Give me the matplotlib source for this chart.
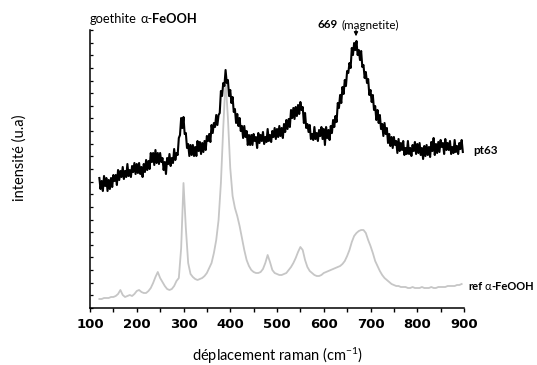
import numpy as np
import matplotlib
matplotlib.use("Agg")
import matplotlib.pyplot as plt
from matplotlib.transforms import IdentityTransform

plt.rcParams['font.family'] = ['Lato', 'DejaVu Sans']
plt.rcParams['mathtext.fontset'] = 'custom'
plt.rcParams['mathtext.rm'] = 'Lato'
plt.rcParams['mathtext.bf'] = 'Lato:bold'
plt.rcParams['mathtext.it'] = 'Lato:italic'

# pt63 spectrum: Raman shift 120 .. 897.5 cm-1, every 2.5 cm-1 (arbitrary units)
shift_pt63 = np.arange(120, 900, 2.5)
pt63 = [130, 119, 127, 117, 132, 122, 130, 117, 128, 119,
        130, 121, 133, 127, 133, 123, 138, 128, 137, 131,
        141, 129, 137, 131, 144, 132, 138, 131, 142, 136,
        145, 134, 144, 135, 145, 134, 141, 131, 144, 136,
        148, 138, 147, 139, 155, 146, 155, 143, 158, 145,
        155, 144, 155, 146, 150, 138, 146, 134, 150, 144,
        154, 142, 150, 145, 159, 148, 155, 153, 170, 173,
        190, 180, 191, 174, 175, 160, 164, 152, 163, 153,
        163, 152, 161, 152, 167, 157, 166, 154, 165, 156,
        167, 158, 172, 167, 174, 166, 183, 175, 185, 181,
        193, 183, 193, 195, 217, 212, 225, 222, 238, 225,
        228, 212, 218, 205, 211, 196, 199, 185, 194, 182,
        190, 177, 182, 170, 182, 171, 177, 163, 173, 163,
        173, 163, 174, 167, 171, 160, 175, 165, 173, 167,
        176, 164, 171, 166, 179, 167, 173, 166, 177, 171,
        180, 169, 179, 171, 182, 172, 180, 170, 184, 176,
        188, 179, 189, 181, 198, 190, 200, 189, 201, 192,
        203, 194, 206, 198, 201, 185, 195, 180, 184, 176,
        183, 169, 174, 168, 181, 169, 175, 167, 178, 172,
        181, 169, 179, 163, 181, 170, 178, 168, 182, 175,
        188, 181, 192, 186, 205, 200, 213, 205, 221, 214,
        228, 222, 237, 235, 245, 240, 260, 253, 265, 258,
        267, 253, 258, 248, 257, 241, 243, 230, 236, 225,
        229, 213, 218, 206, 213, 198, 202, 188, 198, 185,
        193, 179, 184, 172, 185, 174, 180, 165, 174, 162,
        171, 160, 171, 163, 167, 155, 169, 157, 165, 158,
        167, 153, 160, 154, 167, 154, 160, 152, 163, 157,
        166, 154, 164, 155, 165, 153, 160, 149, 162, 152,
        163, 153, 161, 151, 166, 157, 170, 153, 164, 155,
        166, 156, 168, 161, 165, 154, 169, 158, 165, 158,
        167, 154, 161, 155, 168, 156, 162, 154, 165, 159,
        168, 156]

# reference goethite spectrum: Raman shift 120 .. 895 cm-1, every 5 cm-1
shift_ref = np.arange(120, 900, 5)
ref = [9, 9, 10, 10, 10, 11, 11, 12, 14, 18,
       13, 11, 12, 13, 12, 14, 17, 18, 16, 15,
       15, 17, 20, 25, 31, 36, 30, 26, 22, 19,
       18, 19, 22, 27, 30, 60, 125, 80, 45, 34,
       31, 29, 28, 29, 30, 32, 35, 40, 45, 55,
       68, 88, 125, 180, 228, 190, 140, 112, 100, 92,
       82, 70, 58, 48, 42, 38, 36, 35, 35, 36,
       39, 45, 53, 46, 38, 35, 34, 33, 33, 34,
       35, 38, 41, 45, 50, 56, 61, 58, 48, 41,
       37, 35, 33, 32, 32, 33, 35, 36, 37, 38,
       39, 40, 41, 42, 44, 47, 52, 58, 66, 72,
       75, 77, 78, 78, 75, 68, 62, 55, 47, 42,
       37, 33, 30, 28, 26, 24, 23, 22, 22, 21,
       21, 21, 20, 20, 21, 20, 20, 20, 21, 20,
       20, 20, 21, 20, 20, 21, 21, 21, 21, 22,
       22, 22, 22, 23, 23, 24]

xticks = [100, 200, 300, 400, 500, 600, 700, 800, 900]

W, H = 537, 365
fig = plt.figure(figsize=(W / 100, H / 100), dpi=100)
ax = fig.add_axes([90 / W, 1 - 308 / H, (464 - 90) / W, (308 - 30) / H])

ax.plot(shift_ref, ref, color='#c6c6c6', lw=1.3, zorder=2)
ax.plot(shift_pt63, pt63, color='black', lw=1.5, zorder=3)

ax.set_xlim(100, 900)
ax.set_ylim(0, 278)
ax.set_xticks(xticks)
ax.set_xticklabels([str(t) for t in xticks], fontweight='bold', fontsize=9.5,
                   family='DejaVu Sans')
ax.set_xticks(np.arange(150, 900, 100), minor=True)
ax.set_yticks(np.arange(0, 279, 278 / 22))
ax.set_yticklabels([])
ax.tick_params(axis='x', which='major', direction='out', length=3, width=1.0, pad=4)
ax.tick_params(axis='x', which='minor', direction='out', length=3, width=1.0)
ax.tick_params(axis='y', which='major', direction='in', length=2.5, width=0.9)
for s in ['top', 'right']:
    ax.spines[s].set_visible(False)
for s in ['left', 'bottom']:
    ax.spines[s].set_linewidth(1.1)

# annotation arrow at 669 cm-1
ax.annotate('', xy=(669, 269), xytext=(669, 281),
            arrowprops=dict(arrowstyle='-|>', color='black', lw=0.8,
                            mutation_scale=6), annotation_clip=False)

fig.text(277 / W, 1 - 356 / H, r'déplacement raman (cm$^{-1}$)', fontsize=10.5,
         ha='center', va='center')
fig.text(20 / W, 1 - 158 / H, 'intensité (u.a)', rotation=90, fontsize=10.5,
         ha='center', va='center')

renderer = fig.canvas.get_renderer()


def rich(x_px, y_top_px, parts, size):
    """Draw text pieces side by side, starting at pixel x, centred on pixel y."""
    x = x_px
    y = H - y_top_px
    for s, weight, gap in parts:
        x += gap * size * 100 / 72
        t = fig.text(x, y, s, transform=IdentityTransform(), fontsize=size,
                     fontweight=weight, ha='left', va='center_baseline')
        x = t.get_window_extent(renderer).x1


rich(90, 18, [('goethite', 'normal', 0), ('α-', 'normal', 0.25),
              ('FeOOH', 'bold', 0)], 9.3)
rich(318, 24, [('669', 'bold', 0), ('(magnetite)', 'normal', 0.25)], 8.4)
rich(473, 149, [('pt63', 'bold', 0)], 8.4)
rich(468, 286, [('ref', 'bold', 0), ('α', 'normal', 0.25),
                ('-FeOOH', 'bold', 0)], 8.0)

fig.savefig('out.png', dpi=100)
